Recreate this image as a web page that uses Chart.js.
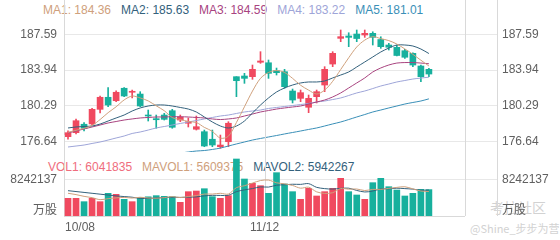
<!DOCTYPE html>
<html>
<head>
<meta charset="utf-8">
<script src="https://cdn.jsdelivr.net/npm/chart.js@4.4.0/dist/chart.umd.min.js"></script>
<style>
body { margin: 0; background: #fff; }
#wrap { position: relative; width: 560px; height: 240px; overflow: hidden;
        font-family: Arial, "Liberation Sans", "Noto Sans CJK SC", sans-serif; font-size: 12px; }
.title { position: absolute; white-space: nowrap; line-height: 14px; }
.title span { margin-right: 10px; }
#maTitle { left: 43px; top: 3px; }
#volTitle { left: 48px; top: 160px; }
#pricePanel { position: absolute; left: 0; top: 0; width: 560px; height: 168px; }
#volPanel { position: absolute; left: 0; top: 135px; width: 560px; height: 105px; }
.mark { position: absolute; color: #d2d2d2; white-space: nowrap; }
</style>
</head>
<body>
<div id="wrap">
  <div id="maTitle" class="title"></div>
  <div id="volTitle" class="title"></div>
  <div class="mark" style="left:490px; top:197px; font-size:14px; font-family:'Noto Sans CJK SC';">考拉社区</div>
  <div class="mark" style="left:470px; top:220px; font-size:11px; font-family:'Noto Sans CJK SC';">@Shine_步步为营</div>
  <div id="pricePanel"><canvas id="priceChart"></canvas></div>
  <div id="volPanel"><canvas id="volChart"></canvas></div>
</div>
<script>
// daily candles, 10/08 .. (46 sessions)
const openPrices = [177.15, 177.56, 178.42, 178.45, 179.94, 181.17, 180.82, 182.09, 181.68, 181.50,
  179.36, 178.99, 179.36, 179.80, 178.85, 178.52, 177.91, 177.66, 176.89, 176.13,
  176.64, 183.27, 183.34, 183.27, 184.74, 184.69, 183.88, 183.78, 181.81, 181.06,
  180.15, 181.23, 182.42, 184.56, 187.18, 187.42, 187.62, 187.52, 187.69, 187.06,
  186.50, 186.26, 185.92, 185.65, 184.36, 184.02];
const closePrices = [177.56, 178.78, 178.01, 179.94, 181.17, 180.38, 181.68, 181.30, 181.78, 180.28,
  179.26, 178.88, 178.92, 178.11, 179.13, 178.68, 178.17, 176.20, 176.30, 176.30,
  178.52, 182.86, 183.10, 184.02, 184.87, 183.61, 183.68, 182.25, 180.89, 181.64,
  181.06, 181.74, 184.02, 185.65, 187.35, 187.28, 187.16, 187.69, 187.28, 186.33,
  186.27, 185.43, 185.25, 184.46, 183.27, 183.54];
const highPrices = [177.76, 178.95, 178.58, 180.04, 181.30, 182.15, 181.84, 182.15, 181.91, 181.74,
  179.87, 179.36, 179.53, 179.94, 179.36, 179.06, 179.26, 177.83, 177.83, 177.32,
  178.68, 183.27, 183.61, 184.46, 185.82, 184.97, 184.15, 184.02, 182.01, 181.91,
  181.40, 181.91, 184.29, 185.82, 188.03, 187.75, 188.03, 188.03, 187.85, 187.34,
  186.67, 186.50, 186.06, 185.71, 184.46, 184.12];
const lowPrices = [176.89, 177.43, 177.73, 178.34, 179.57, 180.21, 180.72, 181.23, 181.10, 180.21,
  178.75, 178.01, 178.85, 178.01, 178.68, 178.14, 177.83, 176.13, 176.13, 175.97,
  176.13, 181.23, 182.59, 183.00, 184.63, 183.10, 183.44, 182.09, 180.59, 180.72,
  179.60, 180.59, 181.74, 184.29, 186.84, 186.33, 186.84, 187.28, 186.50, 186.16,
  185.99, 185.38, 185.14, 184.29, 182.76, 183.27];

const ma1 = [177.6, 177.8, 178.0, 178.3, 178.9, 179.6, 180.2, 180.9, 181.3, 181.1,
  180.8, 180.3, 179.8, 179.1, 178.9, 178.7, 178.6, 178.1, 177.7, 177.0,
  177.2, 178.6, 180.2, 181.8, 183.1, 183.7, 183.9, 183.7, 183.1, 182.4,
  181.9, 181.5, 181.9, 182.8, 184.0, 185.2, 186.3, 187.0, 187.35, 187.15,
  186.95, 186.6, 186.1, 185.55, 184.95, 184.36];
const ma2 = [178.04, 178.14, 178.19, 178.24, 178.44, 178.75, 179.06, 179.36, 179.77, 180.08,
  180.28, 180.38, 180.38, 180.28, 180.13, 179.97, 179.67, 179.16, 178.65, 178.24,
  178.04, 178.24, 178.75, 179.57, 180.38, 181.10, 181.71, 182.12, 182.42, 182.63,
  182.73, 182.73, 182.83, 183.14, 183.44, 183.75, 184.26, 184.77, 185.28, 185.79,
  186.19, 186.50, 186.50, 186.40, 186.09, 185.63];
const ma3 = [177.53, 177.73, 177.94, 178.14, 178.34, 178.55, 178.70, 178.85, 178.96, 179.06,
  179.11, 179.16, 179.16, 179.19, 179.19, 179.16, 179.11, 179.06, 178.96, 178.90,
  178.96, 179.06, 179.26, 179.46, 179.67, 179.82, 179.97, 180.08, 180.18, 180.28,
  180.48, 180.69, 180.89, 181.20, 181.61, 182.12, 182.63, 183.14, 183.75, 184.16,
  184.46, 184.66, 184.71, 184.71, 184.66, 184.59];
const ma4 = [176.10, 176.20, 176.30, 176.46, 176.61, 176.81, 177.02, 177.22, 177.48, 177.63,
  177.83, 178.04, 178.19, 178.34, 178.50, 178.65, 178.80, 178.96, 179.11, 179.26,
  179.36, 179.52, 179.67, 179.77, 179.87, 180.03, 180.13, 180.23, 180.33, 180.43,
  180.54, 180.69, 180.79, 180.94, 181.10, 181.35, 181.61, 181.81, 182.06, 182.32,
  182.52, 182.73, 182.88, 183.03, 183.13, 183.22];
const ma5 = [174.26, 174.37, 174.47, 174.57, 174.67, 174.78, 174.88, 174.98, 175.08, 175.18,
  175.29, 175.34, 175.39, 175.44, 175.49, 175.59, 175.69, 175.74, 175.85, 175.99,
  176.20, 176.41, 176.61, 176.81, 176.97, 177.12, 177.27, 177.43, 177.58, 177.73,
  177.89, 178.04, 178.24, 178.45, 178.65, 178.90, 179.16, 179.41, 179.67, 179.87,
  180.08, 180.28, 180.48, 180.64, 180.79, 181.01];

const volumes = [4050000, 4050000, 3280000, 4050000, 3280000, 5190000, 4960000, 3820000, 3280000, 4200000,
  4400000, 4660000, 4500000, 4430000, 3130000, 5570000, 5720000, 6250000, 4430000, 4050000,
  4660000, 13050000, 8470000, 7480000, 6940000, 5190000, 9920000, 7330000, 5570000, 3820000,
  6330000, 4580000, 5570000, 6330000, 8630000, 5570000, 4810000, 3820000, 7630000, 8630000,
  6710000, 5950000, 4580000, 5190000, 6110000, 6041835];
const mavol1 = [5200000, 4900000, 4500000, 4200000, 3740000, 3970000, 4150000, 4260000, 4110000, 4290000,
  4130000, 4070000, 4210000, 4440000, 4220000, 4460000, 4670000, 5020000, 5020000, 5200000,
  5020000, 6490000, 6930000, 7540000, 8120000, 8230000, 7600000, 7370000, 6990000, 6370000,
  6590000, 5530000, 5170000, 5330000, 6290000, 6140000, 6180000, 5830000, 6090000, 6090000,
  6320000, 6550000, 6700000, 6210000, 5710000, 5609375];
const mavol2 = [5800000, 5600000, 5400000, 5200000, 5000000, 4800000, 4600000, 4450000, 4300000, 4020000,
  4050000, 4110000, 4230000, 4270000, 4260000, 4300000, 4370000, 4610000, 4730000, 4710000,
  4740000, 5580000, 5980000, 6280000, 6660000, 6620000, 7040000, 7150000, 7270000, 7240000,
  7410000, 6560000, 6270000, 6160000, 6330000, 6370000, 5850000, 5500000, 5710000, 6190000,
  6230000, 6370000, 6270000, 6150000, 5900000, 5942267];

const priceTicks = [176.64, 180.29, 183.94, 187.59];
const volTicks = [8242137];
const dateTicks = ['10/08', '11/12'];
const dateTickIndex = [0, 25];
const volUnit = '万股';

const upColor = '#f0495f';
const downColor = '#17b09d';
const gridColor = '#e8e8e8';
const frameColor = '#d9d9d9';
const labelColor = '#606060';
const maColors = ['#cfa07c', '#33617c', '#a8437f', '#9ea5d8', '#3a8fb7'];
const volColors = ['#ef6d7d', '#cfa07c', '#33617c'];
const fontFamily = 'Arial, "Liberation Sans", "Noto Sans CJK SC", sans-serif';

Chart.defaults.font.family = fontFamily;
Chart.defaults.font.size = 12;
Chart.defaults.color = labelColor;

const slotCount = 50;
const slots = Array.from({ length: slotCount }, (_, i) => i);
const candleColors = openPrices.map((o, i) => closePrices[i] >= o ? upColor : downColor);

// titles
const maSeries = [ma1, ma2, ma3, ma4, ma5];
document.getElementById('maTitle').innerHTML = maSeries.map((s, k) =>
  `<span style="color:${maColors[k]}">MA${k + 1}: ${s[s.length - 1].toFixed(2)}</span>`).join('');
const volTitleItems = [['VOL1', volumes], ['MAVOL1', mavol1], ['MAVOL2', mavol2]];
document.getElementById('volTitle').innerHTML = volTitleItems.map(([name, s], k) =>
  `<span style="color:${volColors[k]}">${name}: ${Math.round(s[s.length - 1])}</span>`).join('');

function sideAxes(min, max, ticks, fmt) {
  const fixTicks = scale => { scale.ticks = ticks.map(v => ({ value: v })); };
  return {
    yl: {
      position: 'left', min, max, afterBuildTicks: fixTicks,
      afterFit: s => { s.width = 64; },
      grid: { color: gridColor, drawTicks: false },
      border: { display: false },
      ticks: { padding: 7, callback: fmt }
    },
    yr: {
      position: 'right', min, max, afterBuildTicks: fixTicks,
      afterFit: s => { s.width = 95; },
      grid: { color: gridColor, drawOnChartArea: false, tickLength: 32 },
      border: { display: false },
      ticks: { padding: 5, callback: fmt }
    }
  };
}

function slotEdge(x, index) {
  const half = (x.getPixelForValue(1) - x.getPixelForValue(0)) / 2;
  return x.getPixelForValue(index) - half;
}

const framePlugin = {
  id: 'frame',
  beforeDatasetsDraw(chart, args, opts) {
    const { ctx, chartArea: a, scales: { x } } = chart;
    const xs = [a.left, slotEdge(x, dateTickIndex[1]), a.right, a.right + 32];
    ctx.save();
    ctx.strokeStyle = frameColor;
    ctx.lineWidth = 1;
    ctx.beginPath();
    xs.forEach(px => {
      const sx = Math.round(px) + 0.5;
      ctx.moveTo(sx, opts.top);
      ctx.lineTo(sx, a.bottom);
    });
    if (opts.baseLine) {
      const by = Math.round(a.bottom) + 0.5;
      ctx.moveTo(a.left, by);
      ctx.lineTo(a.right, by);
    }
    ctx.stroke();
    ctx.restore();
  }
};

const volTextPlugin = {
  id: 'volText',
  afterDraw(chart) {
    const { ctx, chartArea: a, scales: { x } } = chart;
    ctx.save();
    ctx.fillStyle = labelColor;
    ctx.font = '12px ' + fontFamily;
    ctx.textBaseline = 'middle';
    dateTicks.forEach((t, k) => {
      const px = slotEdge(x, dateTickIndex[k]);
      ctx.textAlign = k === 0 ? 'left' : 'center';
      ctx.fillText(t, k === 0 ? px + 1 : px, a.bottom + 12);
    });
    ctx.textBaseline = 'bottom';
    ctx.textAlign = 'right';
    ctx.fillText(volUnit, a.left - 7, a.bottom + 1);
    ctx.textAlign = 'left';
    ctx.fillText(volUnit, a.right + 37, a.bottom + 1);
    ctx.restore();
  }
};

const maLine = (data, color) => ({
  type: 'line', data, borderColor: color, borderWidth: 1, pointRadius: 0,
  tension: 0.3, yAxisID: 'yl', order: 0
});

const baseOptions = {
  responsive: true,
  maintainAspectRatio: false,
  animation: false,
  devicePixelRatio: 1,
  events: [],
  plugins: { legend: { display: false }, tooltip: { enabled: false } }
};

new Chart(document.getElementById('priceChart'), {
  type: 'bar',
  data: {
    labels: slots,
    datasets: [
      ...maSeries.map((s, k) => maLine(s, maColors[k])),
      {
        data: lowPrices.map((l, i) => [l, highPrices[i]]),
        backgroundColor: candleColors, barThickness: 1, grouped: false,
        yAxisID: 'yl', order: 2
      },
      {
        data: openPrices.map((o, i) => [o, closePrices[i]]),
        backgroundColor: candleColors, barThickness: 6, minBarLength: 1, grouped: false,
        yAxisID: 'yl', order: 1
      }
    ]
  },
  options: {
    ...baseOptions,
    layout: { padding: { top: 20, bottom: 16, left: 0, right: 0 } },
    scales: {
      x: { display: false, offset: true },
      ...sideAxes(175.59, 189.05, priceTicks, v => v.toFixed(2))
    },
    plugins: { ...baseOptions.plugins, frame: { top: 0, baseLine: false } }
  },
  plugins: [framePlugin]
});

new Chart(document.getElementById('volChart'), {
  type: 'bar',
  data: {
    labels: slots,
    datasets: [
      maLine(mavol1, volColors[1]),
      maLine(mavol2, volColors[2]),
      {
        data: volumes, backgroundColor: candleColors, barThickness: 6,
        grouped: false, yAxisID: 'yl', order: 1
      }
    ]
  },
  options: {
    ...baseOptions,
    layout: { padding: { top: 15, bottom: 24, left: 0, right: 0 } },
    scales: {
      x: { display: false, offset: true },
      ...sideAxes(0, 15110000, volTicks, v => String(v))
    },
    plugins: { ...baseOptions.plugins, frame: { top: 0, baseLine: true } }
  },
  plugins: [framePlugin, volTextPlugin]
});
</script>
</body>
</html>
